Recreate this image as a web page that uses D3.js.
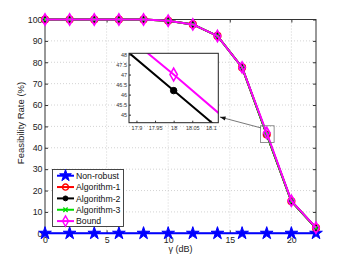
<!DOCTYPE html>
<html><head><meta charset="utf-8">
<script src="https://cdn.jsdelivr.net/npm/d3@7"></script>
<style>body{margin:0;background:#fff}svg{display:block}text{font-family:"Liberation Sans",Arial,sans-serif}</style>
</head><body>
<svg id="c" width="349" height="262"></svg>
<script>
const gammaDB = [0,2,4,6,8,10,12,14,16,18,20,22];
const nonRobust = [0,0,0,0,0,0,0,0,0,0,0,0];
const algorithm1 = [100,100,100,100,100,99.4,97.7,92.3,77.6,46.2,15.0,2.5];
const algorithm2 = [100,100,100,100,100,99.4,97.7,92.3,77.6,46.2,15.0,2.5];
const algorithm3 = [100,100,100,100,100,99.4,97.7,92.3,77.6,46.2,15.0,2.5];
const bound = [100,100,100,100,100,99.4,97.7,92.3,77.6,47.0,15.2,2.6];
const xTicks = [0,5,10,15,20];
const yTicks = [0,10,20,30,40,50,60,70,80,90,100];
const insetXTicks = [17.9,17.95,18,18.05,18.1];
const insetYTicks = [45,45.5,46,46.5,47,47.5,48];
const seriesNames = ["Non-robust","Algorithm-1","Algorithm-2","Algorithm-3","Bound"];

const svg = d3.select("#c");
const L=45,R=316,T=19.5,B=233.3;
const x = d3.scaleLinear().domain([0,22]).range([L,R]);
const y = d3.scaleLinear().domain([0,100]).range([B,T]);

const styles = [
  {color:"#0000ff", sym:d3.symbolStar, size:50, fill:true},
  {color:"#ff0000", sym:d3.symbolCircle, size:34, fill:false},
  {color:"#000000", sym:d3.symbolCircle, size:22, fill:true},
  {color:"#00dd00", sym:d3.symbolX, size:16, fill:false},
  {color:"#ff00ff", sym:d3.symbolDiamond, size:36, fill:false}
];
const data = [nonRobust, algorithm1, algorithm2, algorithm3, bound];

// grid
const grid = svg.append("g").attr("stroke","#c8c8c8").attr("stroke-width",0.8).attr("stroke-dasharray","1,2");
xTicks.forEach(t=>{ if(t>0) grid.append("line").attr("x1",x(t)).attr("x2",x(t)).attr("y1",T).attr("y2",B); });
yTicks.forEach(t=>{ if(t>0 && t<100) grid.append("line").attr("y1",y(t)).attr("y2",y(t)).attr("x1",L).attr("x2",R); });

// axes
const ax = svg.append("g");
ax.append("g").attr("transform",`translate(0,${B})`).call(d3.axisBottom(x).tickValues(xTicks).tickSizeInner(-3).tickSizeOuter(0).tickPadding(3.7));
ax.append("g").attr("transform",`translate(${L},0)`).call(d3.axisLeft(y).tickValues(yTicks).tickSizeInner(-3).tickSizeOuter(0).tickPadding(2.5));
ax.append("g").attr("transform",`translate(0,${T})`).call(d3.axisTop(x).tickValues(xTicks).tickSizeInner(-3).tickSizeOuter(0).tickFormat(""));
ax.append("g").attr("transform",`translate(${R},0)`).call(d3.axisRight(y).tickValues(yTicks).tickSizeInner(-3).tickSizeOuter(0).tickFormat(""));
ax.selectAll(".domain").remove();
ax.selectAll("line").attr("stroke","#333");
ax.selectAll("text").attr("font-size","8.8px").attr("fill","#222").attr("font-family","Liberation Sans, Arial, sans-serif");
svg.append("rect").attr("x",L).attr("y",T).attr("width",R-L).attr("height",B-T).attr("fill","none").attr("stroke","#333").attr("stroke-width",1);

// series
function drawSeries(g, xs, ys, vals, st, lw){
  const ln = d3.line().x((d,i)=>xs(gammaDB[i])).y(d=>ys(d));
  g.append("path").datum(vals).attr("d",ln).attr("fill","none").attr("stroke",st.color).attr("stroke-width",lw);
}
function drawMarkers(g, xs, ys, vals, st, sc){
  g.selectAll(null).data(vals).enter().append("path")
    .attr("transform",(d,i)=>`translate(${xs(gammaDB[i])},${ys(d)})`)
    .attr("d",d3.symbol().type(st.sym).size(st.size*(sc||1)))
    .attr("fill",st.fill?st.color:"none").attr("stroke",st.color).attr("stroke-width",st.fill?1:1.6);
}
const main = svg.append("g");
data.forEach((v,k)=>{ drawSeries(main,x,y,v,styles[k],2); drawMarkers(main,x,y,v,styles[k]); });

// zoom rectangle and arrow
const zoomRectX=[17.5,18.6], zoomRectY=[42.5,50.3];
svg.append("rect").attr("x",x(zoomRectX[0])).attr("y",y(zoomRectY[1])).attr("width",x(zoomRectX[1])-x(zoomRectX[0])).attr("height",y(zoomRectY[0])-y(zoomRectY[1]))
  .attr("fill","none").attr("stroke","#777").attr("stroke-width",0.8);
const arrowFrom=[17.53,49.3], arrowTo=[14.2,54.4];
svg.append("line").attr("x1",x(arrowFrom[0])).attr("y1",y(arrowFrom[1])).attr("x2",x(arrowTo[0])).attr("y2",y(arrowTo[1])).attr("stroke","#555").attr("stroke-width",0.8);
{
  const x2=x(arrowTo[0]), y2=y(arrowTo[1]), x1=x(arrowFrom[0]), y1=y(arrowFrom[1]);
  const a=Math.atan2(y2-y1,x2-x1), l=6, w=0.35;
  svg.append("path").attr("d",`M${x2},${y2}L${x2-l*Math.cos(a-w)},${y2-l*Math.sin(a-w)}L${x2-l*Math.cos(a+w)},${y2-l*Math.sin(a+w)}Z`).attr("fill","#111");
}

// inset
const iL=129,iR=218.3,iT=53.3,iB=122.7;
const xi = d3.scaleLinear().domain([17.88,18.12]).range([iL,iR]);
const yi = d3.scaleLinear().domain([44.6,48.06]).range([iB,iT]);
svg.append("rect").attr("x",iL).attr("y",iT).attr("width",iR-iL).attr("height",iB-iT).attr("fill","#fff");
svg.append("clipPath").attr("id","ic").append("rect").attr("x",iL).attr("y",iT).attr("width",iR-iL).attr("height",iB-iT);
const ig = svg.append("g").attr("clip-path","url(#ic)");
drawSeries(ig,xi,yi,algorithm2,styles[2],2);
drawSeries(ig,xi,yi,bound,styles[4],2);
drawMarkers(ig,xi,yi,algorithm2,styles[2],1.5);
drawMarkers(ig,xi,yi,bound,styles[4],1.3);
const ia = svg.append("g");
ia.append("g").attr("transform",`translate(0,${iB})`).call(d3.axisBottom(xi).tickValues(insetXTicks).tickSizeInner(-2).tickSizeOuter(0).tickPadding(3).tickFormat(d=>String(d)));
ia.append("g").attr("transform",`translate(${iL},0)`).call(d3.axisLeft(yi).tickValues(insetYTicks).tickSizeInner(-2).tickSizeOuter(0).tickPadding(2).tickFormat(d=>String(d)));
ia.selectAll(".domain").remove();
ia.selectAll("line").attr("stroke","#333");
ia.selectAll("text").attr("font-size","5.5px").attr("fill","#333").attr("font-family","Liberation Sans, Arial, sans-serif");
svg.append("rect").attr("x",iL).attr("y",iT).attr("width",iR-iL).attr("height",iB-iT).attr("fill","none").attr("stroke","#222").attr("stroke-width",1);

// axis labels
svg.append("text").attr("x",(L+R)/2).attr("y",251.5).attr("text-anchor","middle").attr("font-size","9px").attr("fill","#222").text("γ (dB)");
svg.append("text").attr("transform","translate(24,123) rotate(-90)").attr("text-anchor","middle").attr("font-size","9.5px").attr("fill","#222").text("Feasibility Rate (%)");

// legend
const lg = svg.append("g");
lg.append("rect").attr("x",52.5).attr("y",169.5).attr("width",71).attr("height",57).attr("fill","#fff").attr("stroke","#333").attr("stroke-width",0.9);
seriesNames.forEach((n,k)=>{
  const yy = 175.7 + k*11.35;
  const st = styles[k];
  lg.append("line").attr("x1",57).attr("x2",74).attr("y1",yy).attr("y2",yy).attr("stroke",st.color).attr("stroke-width",2);
  lg.append("path").attr("transform",`translate(65.5,${yy})`).attr("d",d3.symbol().type(st.sym).size(st.size*0.85)).attr("fill",st.fill?st.color:"none").attr("stroke",st.color).attr("stroke-width",st.fill?1:1.4);
  lg.append("text").attr("x",76).attr("y",yy+3.2).attr("font-size","8.7px").attr("fill","#111").text(n);
});
</script>
</body></html>
